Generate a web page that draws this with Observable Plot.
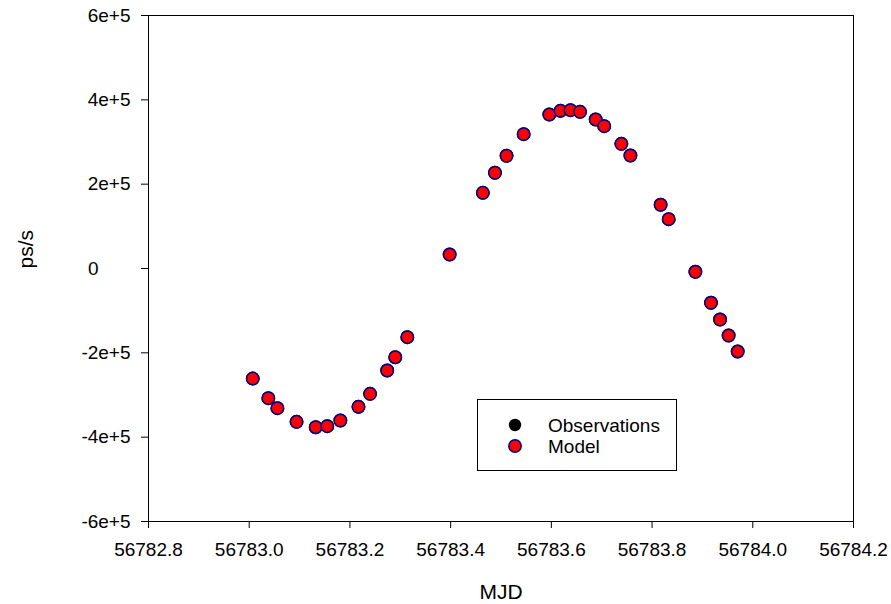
<!DOCTYPE html>
<html>
<head>
<meta charset="utf-8">
<script src="https://cdn.jsdelivr.net/npm/d3@7"></script>
<script src="https://cdn.jsdelivr.net/npm/@observablehq/plot@0.6"></script>
<style>
  body { margin: 0; background: #fff; }
  #wrap { position: relative; width: 891px; height: 604px; font-family: "Liberation Sans", Arial, sans-serif; }
  #legend { position: absolute; left: 477px; top: 399px; width: 200px; height: 72px; border: 1px solid #000; box-sizing: border-box; background: #fff; }
  #legend svg { position: absolute; left: 0; top: 0; }
</style>
</head>
<body>
<div id="wrap"></div>
<script>
const mjd = [56783.007, 56783.038, 56783.056, 56783.094, 56783.132, 56783.155, 56783.181, 56783.217,
  56783.240, 56783.274, 56783.290, 56783.314, 56783.398, 56783.464, 56783.488, 56783.511,
  56783.545, 56783.596, 56783.618, 56783.638, 56783.657, 56783.688, 56783.705, 56783.739,
  56783.757, 56783.817, 56783.833, 56783.886, 56783.917, 56783.935, 56783.952, 56783.970];
const model = [-261000, -307600, -331300, -363600, -376400, -374000, -360500, -328000,
  -297200, -241900, -210400, -162900, 33200, 179500, 227000, 267300,
  318500, 365200, 374000, 375400, 371600, 353400, 337500, 295700,
  268000, 151100, 116900, -7800, -81300, -121000, -158900, -196800];
const observations = [-261000, -307600, -331300, -363600, -376400, -374000, -360500, -328000,
  -297200, -241900, -210400, -162900, 33200, 179500, 227000, 267300,
  318500, 365200, 374000, 375400, 371600, 353400, 337500, 295700,
  268000, 151100, 116900, -7800, -81300, -121000, -158900, -196800];
const xTicks = [56782.8, 56783.0, 56783.2, 56783.4, 56783.6, 56783.8, 56784.0, 56784.2];
const yTicks = [-600000, -400000, -200000, 0, 200000, 400000, 600000];
const seriesNames = ["Observations", "Model"];

const obsData = mjd.map((x, i) => ({x, y: observations[i]}));
const modelData = mjd.map((x, i) => ({x, y: model[i]}));
const yFmt = d => d === 0 ? "0" : (d / 1e5) + "e+5";

const chart = Plot.plot({
  width: 891,
  height: 604,
  marginLeft: 148,
  marginRight: 38,
  marginTop: 15,
  marginBottom: 83,
  style: { fontFamily: "'Liberation Sans', Arial, sans-serif", fontSize: "19px", background: "#fff", color: "#000" },
  x: { domain: [56782.8, 56784.2] },
  y: { domain: [-600000, 600000] },
  marks: [
    Plot.frame({ stroke: "#000", strokeWidth: 1 }),
    Plot.axisX(xTicks, { tickSize: 7, tickPadding: 14, tickFormat: d3.format(".1f"), label: null, fontSize: 19 }),
    Plot.axisY(yTicks.filter(d => d !== 0), { tickSize: 7, tickPadding: 11, tickFormat: yFmt, label: null, fontSize: 19 }),
    Plot.axisY([0], { tickSize: 7, tickPadding: 43, tickFormat: yFmt, label: null, fontSize: 19 }),
    Plot.text(["MJD"], { frameAnchor: "bottom", dy: 71, lineAnchor: "middle", fontSize: 21 }),
    Plot.text(["ps/s"], { frameAnchor: "left", dx: -122, rotate: -90, lineAnchor: "middle", fontSize: 21 }),
    Plot.dot(obsData, { x: "x", y: "y", r: 6.2, fill: "#000", stroke: "#000" }),
    Plot.dot(modelData, { x: "x", y: "y", r: 6.2, fill: "#ff0000", stroke: "#000080", strokeWidth: 1.5 })
  ]
});

const wrap = document.getElementById("wrap");
wrap.appendChild(chart);

const legend = document.createElement("div");
legend.id = "legend";
legend.innerHTML = `<svg width="200" height="72" font-family="'Liberation Sans', Arial, sans-serif" font-size="19">
  <circle cx="37" cy="25" r="6.2" fill="#000"/>
  <text x="70" y="25" dominant-baseline="central">${seriesNames[0]}</text>
  <circle cx="37" cy="46" r="6.2" fill="#ff0000" stroke="#000080" stroke-width="1.5"/>
  <text x="70" y="46" dominant-baseline="central">${seriesNames[1]}</text>
</svg>`;
wrap.appendChild(legend);
</script>
</body>
</html>
